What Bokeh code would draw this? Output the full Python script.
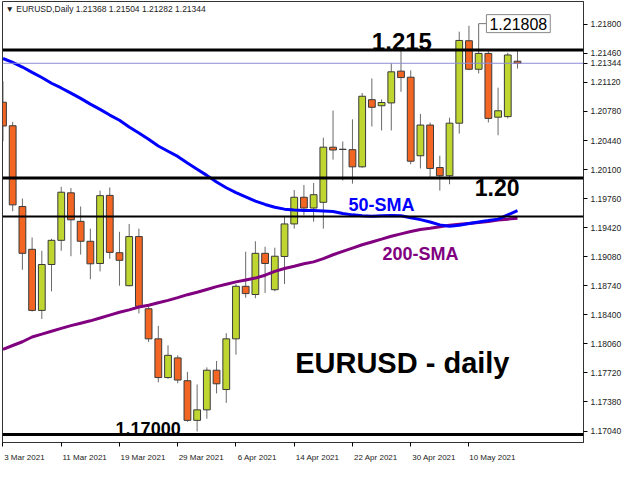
from bokeh.plotting import figure
from bokeh.models import (ColumnDataSource, FixedTicker, Label, Span, NumeralTickFormatter,
                          Range1d, LinearAxis)
from bokeh.embed import file_html
from bokeh.resources import INLINE

dates = ["3 Mar 2021", "4 Mar 2021", "5 Mar 2021", "8 Mar 2021", "9 Mar 2021", "10 Mar 2021",
         "11 Mar 2021", "12 Mar 2021", "15 Mar 2021", "16 Mar 2021", "17 Mar 2021", "18 Mar 2021",
         "19 Mar 2021", "22 Mar 2021", "23 Mar 2021", "24 Mar 2021", "25 Mar 2021", "26 Mar 2021",
         "29 Mar 2021", "30 Mar 2021", "31 Mar 2021", "1 Apr 2021", "2 Apr 2021", "5 Apr 2021",
         "6 Apr 2021", "7 Apr 2021", "8 Apr 2021", "9 Apr 2021", "12 Apr 2021", "13 Apr 2021",
         "14 Apr 2021", "15 Apr 2021", "16 Apr 2021", "19 Apr 2021", "20 Apr 2021", "21 Apr 2021",
         "22 Apr 2021", "23 Apr 2021", "26 Apr 2021", "27 Apr 2021", "28 Apr 2021", "29 Apr 2021",
         "30 Apr 2021", "3 May 2021", "4 May 2021", "5 May 2021", "6 May 2021", "7 May 2021",
         "10 May 2021", "11 May 2021", "12 May 2021", "13 May 2021", "14 May 2021", "17 May 2021"]

opens = [1.20888, 1.20613, 1.19668, 1.19167, 1.18452, 1.18989, 1.19272, 1.19828, 1.19494, 1.19261,
         1.19001, 1.19798, 1.19127, 1.18741, 1.19316, 1.18471, 1.18119, 1.17666, 1.17896, 1.17629,
         1.17165, 1.17288, 1.17752, 1.17526, 1.18119, 1.18734, 1.18638, 1.19120, 1.18694, 1.19083,
         1.19464, 1.19776, 1.19650, 1.19717, 1.20362, 1.20335, 1.20333, 1.20132, 1.20918, 1.20847,
         1.20880, 1.21252, 1.21181, 1.20262, 1.20621, 1.20124, 1.20028, 1.20643, 1.21608, 1.21274,
         1.21459, 1.20713, 1.20720, 1.21368]
highs = [1.21133, 1.20658, 1.19761, 1.19305, 1.19150, 1.19290, 1.19898, 1.19884, 1.19668, 1.19409,
         1.19854, 1.19890, 1.19372, 1.19464, 1.19409, 1.18500, 1.18271, 1.18044, 1.17926, 1.17733,
         1.17585, 1.17785, 1.17860, 1.18185, 1.18760, 1.19139, 1.19261, 1.19197, 1.19186, 1.19557,
         1.19861, 1.19920, 1.19943, 1.20473, 1.20791, 1.20429, 1.20688, 1.20996, 1.21166, 1.20921,
         1.21347, 1.21500, 1.21261, 1.20751, 1.20651, 1.20262, 1.20707, 1.21714, 1.21783, 1.21808,
         1.21485, 1.21058, 1.21466, 1.21504]
lows = [1.20432, 1.19612, 1.18927, 1.18438, 1.18352, 1.18675, 1.19150, 1.19086, 1.19105, 1.18816,
        1.18908, 1.19056, 1.18741, 1.18734, 1.18416, 1.18082, 1.17610, 1.17651, 1.17599, 1.17148,
        1.17036, 1.17184, 1.17481, 1.17370, 1.17933, 1.18600, 1.18594, 1.18656, 1.18675, 1.18760,
        1.19409, 1.19564, 1.19490, 1.19409, 1.20217, 1.19973, 1.19935, 1.20121, 1.20604, 1.20558,
        1.20558, 1.21010, 1.20162, 1.20113, 1.20013, 1.19854, 1.19928, 1.20521, 1.21263, 1.21225,
        1.20651, 1.20502, 1.20699, 1.21282]
closes = [1.20610, 1.19687, 1.19120, 1.18452, 1.18989, 1.19272, 1.19835, 1.19512, 1.19261, 1.18997,
          1.19795, 1.19131, 1.19038, 1.19316, 1.18500, 1.18119, 1.17666, 1.17926, 1.17637, 1.17165,
          1.17288, 1.17752, 1.17593, 1.18119, 1.18734, 1.18649, 1.19120, 1.19001, 1.19086, 1.19464,
          1.19776, 1.19650, 1.19806, 1.20362, 1.20329, 1.20338, 1.20132, 1.20958, 1.20829, 1.20885,
          1.21244, 1.21177, 1.20198, 1.20621, 1.20113, 1.20028, 1.20643, 1.21611, 1.21274, 1.21459,
          1.20699, 1.20788, 1.21441, 1.21344]

sma50 = [1.21400, 1.21355, 1.21300, 1.21238, 1.21177, 1.21110, 1.21055, 1.20994, 1.20933, 1.20866,
         1.20805, 1.20738, 1.20677, 1.20599, 1.20527, 1.20454, 1.20376, 1.20315, 1.20254, 1.20176,
         1.20104, 1.20032, 1.19954, 1.19887, 1.19831, 1.19781, 1.19731, 1.19692, 1.19659, 1.19637,
         1.19626, 1.19620, 1.19620, 1.19615, 1.19609, 1.19587, 1.19570, 1.19559, 1.19553, 1.19559,
         1.19564, 1.19559, 1.19537, 1.19514, 1.19487, 1.19453, 1.19437, 1.19448, 1.19470, 1.19487,
         1.19503, 1.19520, 1.19570, 1.19620]
sma200 = [1.17996, 1.18041, 1.18085, 1.18141, 1.18174, 1.18208, 1.18241, 1.18274, 1.18302, 1.18330,
          1.18363, 1.18397, 1.18430, 1.18458, 1.18491, 1.18513, 1.18541, 1.18569, 1.18602, 1.18636,
          1.18664, 1.18697, 1.18730, 1.18758, 1.18786, 1.18808, 1.18830, 1.18864, 1.18908, 1.18942,
          1.18969, 1.18997, 1.19020, 1.19058, 1.19103, 1.19142, 1.19181, 1.19220, 1.19253, 1.19286,
          1.19320, 1.19348, 1.19375, 1.19398, 1.19414, 1.19431, 1.19448, 1.19459, 1.19470, 1.19481,
          1.19492, 1.19509, 1.19520, 1.19531]

date_tick_labels = ["3 Mar 2021", "11 Mar 2021", "19 Mar 2021", "29 Mar 2021", "6 Apr 2021",
                    "14 Apr 2021", "22 Apr 2021", "30 Apr 2021", "10 May 2021"]
price_ticks = [1.17040, 1.17380, 1.17720, 1.18060, 1.18400, 1.18740, 1.19080, 1.19420, 1.19760,
               1.20100, 1.20440, 1.20780, 1.21120, 1.21460, 1.21800]
thick_levels = [1.215, 1.20, 1.17]
thin_levels = [1.1955]

FONT = "Liberation Sans"
BULL = "#bed62f"
BEAR = "#f26522"
AXIS_TXT = "#222222"

idx = list(range(len(dates)))
x0, x1 = -0.05, 59.8
y0, y1 = 1.16906, 1.22067

p = figure(width=624, height=464, x_range=Range1d(x0, x1), y_range=Range1d(y0, y1),
           y_axis_location="right", toolbar_location=None, output_backend="svg",
           min_border_left=2, min_border_top=1, min_border_right=2, min_border_bottom=16)
p.grid.visible = False
p.outline_line_color = "#333333"
p.outline_line_width = 1
p.background_fill_color = "white"
p.border_fill_color = "white"

# right price axis (scale ticks + the last close)
p.yaxis.ticker = FixedTicker(ticks=price_ticks + [closes[-1]])
p.yaxis.formatter = NumeralTickFormatter(format="0.00000")
p.yaxis.major_label_text_font = FONT
p.yaxis.major_label_text_font_size = "8.5px"
p.yaxis.major_label_text_color = AXIS_TXT
p.yaxis.major_tick_out = 4
p.yaxis.major_tick_in = 0
p.yaxis.minor_tick_line_color = None
p.yaxis.axis_line_color = "#333333"
p.yaxis.major_label_standoff = 3

# bottom: tick marks axis (nearest) + left-aligned date label axis
tick_pos = [dates.index(t) for t in date_tick_labels]
xa = p.xaxis[0]
xa.ticker = FixedTicker(ticks=tick_pos)
xa.major_label_overrides = {t: "" for t in tick_pos}
xa.major_label_text_font_size = "1px"
xa.major_label_standoff = 0
xa.major_tick_out = 4
xa.major_tick_in = 0
xa.minor_tick_line_color = None
xa.axis_line_color = "#333333"

px_per_bar = 9.76
lab_pos = [t + (1 + 2.05 * len(s)) / px_per_bar for t, s in zip(tick_pos, date_tick_labels)]
xb = LinearAxis(ticker=FixedTicker(ticks=lab_pos),
                major_label_overrides={lp: s for lp, s in zip(lab_pos, date_tick_labels)},
                major_tick_line_color=None, minor_tick_line_color=None, axis_line_color=None,
                major_label_standoff=0, major_label_text_font=FONT,
                major_label_text_font_size="8px", major_label_text_color=AXIS_TXT)
p.add_layout(xb, "below")

# levels
for lv in thick_levels:
    p.add_layout(Span(location=lv, dimension="width", line_color="black", line_width=3))
for lv in thin_levels:
    p.add_layout(Span(location=lv, dimension="width", line_color="black", line_width=2))
p.add_layout(Span(location=closes[-1], dimension="width", line_color="#8c8cd8", line_width=1))

# candles
bull = dict(x=[], top=[], bottom=[])
bear = dict(x=[], top=[], bottom=[])
for i, o, c in zip(idx, opens, closes):
    d = bull if c >= o else bear
    d["x"].append(i)
    d["top"].append(max(o, c))
    d["bottom"].append(min(o, c))

p.segment(x0=idx, y0=lows, x1=idx, y1=highs, line_color="#6a6a6a", line_width=1)
p.vbar(x="x", top="top", bottom="bottom", width=0.7, source=ColumnDataSource(bull),
       fill_color=BULL, line_color="#3a3a3a", line_width=1)
p.vbar(x="x", top="top", bottom="bottom", width=0.7, source=ColumnDataSource(bear),
       fill_color=BEAR, line_color="#3a3a3a", line_width=1)

# moving averages
p.line(idx, sma200, line_color="#800080", line_width=3)
p.line(idx, sma50, line_color="#0000ff", line_width=3)

# high marker
hi_i = highs.index(max(highs))
p.segment(x0=[hi_i], y0=[highs[hi_i]], x1=[hi_i + 0.8], y1=[highs[hi_i]], line_color="#777777",
          line_width=1)
p.add_layout(Label(x=hi_i + 0.8, y=highs[hi_i], text=f"{highs[hi_i]:.5f}", text_align="left",
                   text_baseline="middle", text_font=FONT, text_font_size="16px",
                   text_color="black", background_fill_color="white",
                   border_line_color="#888888", padding=3))

# annotations (vertically centred on the given price)
def bold(text, x, y, size, color="black"):
    p.add_layout(Label(x=x, y=y, text=text, text_align="left", text_baseline="middle",
                       text_font=FONT, text_font_style="bold", text_font_size=size,
                       text_color=color))

bold("1.215", 38.0, 1.21598, "24px")
bold("1.20", 48.6, 1.19893, "23px")
bold("50-SMA", 35.6, 1.19687, "18px", "#0000ff")
bold("200-SMA", 39.1, 1.19108, "18px", "#800080")
bold("EURUSD - daily", 30.1, 1.17841, "29px")
bold("1.17000", 11.6, 1.17068, "18px")

# header
p.add_layout(Label(x=x0, y=y1, x_offset=3, y_offset=-2, text_baseline="top", text_align="left",
                   text=f"\u25bc EURUSD,Daily  {opens[-1]:.5f} {highs[-1]:.5f} {lows[-1]:.5f} {closes[-1]:.5f}",
                   text_font=FONT, text_font_size="8.5px", text_color=AXIS_TXT))

open("out.html", "w").write(file_html(p, INLINE))
